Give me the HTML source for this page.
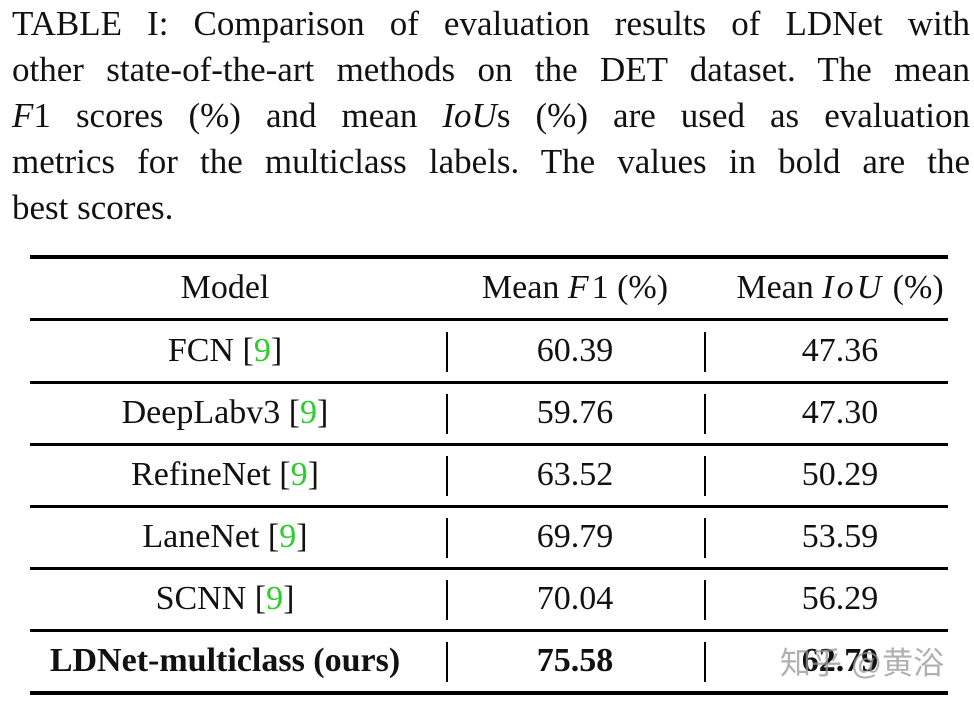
<!DOCTYPE html>
<html><head><meta charset="utf-8"><style>
body{margin:0;width:974px;height:702px;background:#fff;position:relative;overflow:hidden;font-family:"Liberation Serif",serif;color:#111}
.cap{position:absolute;left:12px;width:958px;font-size:35px;line-height:46px;height:46px;text-align:justify;text-align-last:justify;white-space:nowrap}
.cap.last{text-align-last:left}
i{font-style:italic}
.m{letter-spacing:3px}
.rule{position:absolute;left:30px;width:918px;background:#000}
.cell{position:absolute;font-size:34px;line-height:62px;height:62px;text-align:center;white-space:nowrap}
.c1{left:30px;width:390px}.c2{left:460px;width:230px}.c3{left:715px;width:250px}
.vbar{position:absolute;width:2px;height:40px;background:#000}
.g{color:#2ecc2e}
b{font-weight:bold}
.wm{position:absolute;left:780px;top:638px;font-family:"Liberation Sans","Noto Sans CJK SC",sans-serif;font-size:31px;color:rgba(150,150,150,0.75)}
</style></head><body>
<div>
<div class="cap" style="top:1px">TABLE I: Comparison of evaluation results of LDNet with</div>
<div class="cap" style="top:47px">other state-of-the-art methods on the DET dataset. The mean</div>
<div class="cap" style="top:93px"><i>F</i>1 scores (%) and mean <i>IoU</i>s (%) are used as evaluation</div>
<div class="cap" style="top:139px">metrics for the multiclass labels. The values in bold are the</div>
<div class="cap last" style="top:185px">best scores.</div>
</div>
<div>
<div class="rule" style="top:255px;height:4px"></div>
<div class="rule" style="top:318px;height:3px"></div>
<div class="cell c1" style="top:257px">Model</div>
<div class="cell c2" style="top:257px;left:455px;width:240px">Mean <i class="m">F</i>1 (%)</div>
<div class="cell c3" style="top:257px;left:710px;width:260px">Mean <i class="m">IoU</i> (%)</div>
<div id="rows"></div>
</div>
<div class="wm">知乎 @黄浴</div>
<script>
const models=["FCN","DeepLabv3","RefineNet","LaneNet","SCNN","LDNet-multiclass (ours)"];
const f1=["60.39","59.76","63.52","69.79","70.04","75.58"];
const iou=["47.36","47.30","50.29","53.59","56.29","62.79"];
const rows=document.getElementById('rows');
for(let i=0;i<models.length;i++){
  const top=320+i*62;
  const last=i===models.length-1;
  const a=document.createElement('div');a.className='cell c1';a.style.top=top+'px';
  
  
  a.innerHTML=last?'<b>'+models[i]+'</b>':models[i]+' [<span class="g">9</span>]';
  rows.appendChild(a);
  const b=document.createElement('div');b.className='cell c2';b.style.top=top+'px';
  
  
  b.innerHTML=last?'<b>'+f1[i]+'</b>':f1[i];
  rows.appendChild(b);
  const c=document.createElement('div');c.className='cell c3';c.style.top=top+'px';
  
  
  c.innerHTML=last?'<b>'+iou[i]+'</b>':iou[i];
  rows.appendChild(c);
  [446,704].forEach(x=>{const v=document.createElement('div');v.className='vbar';v.style.left=x+'px';v.style.top=(top+12)+'px';
  
  
  rows.appendChild(v);});
  const r=document.createElement('div');r.className='rule';r.style.top=(top+61)+'px';r.style.height=(last?4:3)+'px';
  
  
  rows.appendChild(r);
}
</script>
</body></html>
